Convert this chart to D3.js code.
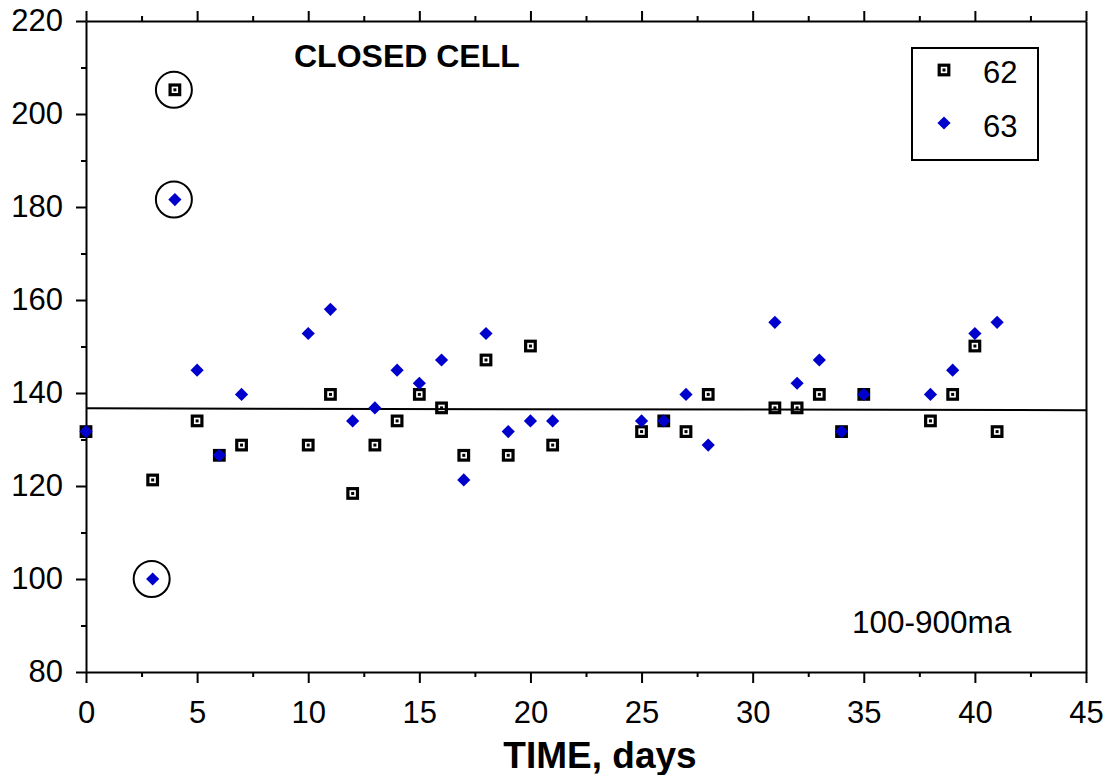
<!DOCTYPE html>
<html lang="en">
<head>
  <meta charset="utf-8">
  <title>Closed cell</title>
  <script src="https://cdn.jsdelivr.net/npm/d3@7"></script>
  <style>
    body { margin: 0; background: #fff; }
    svg text { font-family: "Liberation Sans", Arial, sans-serif; fill: #000; }
    .axis path, .axis line { stroke: #000; stroke-width: 2px; }
    .axis text { font-size: 31px; }
  </style>
</head>
<body>
<div id="chart"></div>
<script>
// days sampled (shared by both cells)
const days = [0, 3, 4, 5, 6, 7, 10, 11, 12, 13, 14, 15, 16, 17, 18, 19, 20, 21,
              25, 26, 27, 28, 31, 32, 33, 34, 35, 38, 39, 40, 41];
// cell 62
const cell62 = [131.7, 121.3, 205.2, 134, 126.6, 128.8, 128.8, 139.7, 118.4, 128.8, 134,
                139.7, 136.8, 126.6, 147.1, 126.6, 150.1, 128.8, 131.7, 134, 131.7, 139.7,
                136.8, 136.8, 139.7, 131.7, 139.7, 134, 139.7, 150.1, 131.7];
// cell 63
const cell63 = [131.7, 100, 181.6, 144.9, 126.6, 139.7, 152.8, 158, 134, 136.8, 144.9,
                142.1, 147.1, 121.3, 152.8, 131.7, 134, 134, 134, 134, 139.7, 128.8,
                155.2, 142.1, 147.1, 131.7, 139.7, 139.7, 144.9, 152.8, 155.2];
// circled outliers [series, day]
const outliers = [["62", 4], ["63", 4], ["63", 3]];
// fitted line end points
const fitX = [0, 45];
const fitY = [136.7, 136.3];
const xTicks = [0, 5, 10, 15, 20, 25, 30, 35, 40, 45];
const yTicks = [80, 100, 120, 140, 160, 180, 200, 220];

const W = 1104, H = 775;
const x = d3.scaleLinear().domain([0, 45]).range([86, 1086]);
const y = d3.scaleLinear().domain([80, 220]).range([672, 21]);

const svg = d3.select("#chart").append("svg").attr("width", W).attr("height", H);

const minorX = d3.range(2.5, 45, 5);
const minorY = d3.range(90, 220, 20);

// bottom axis
const gx = svg.append("g").attr("class", "axis").attr("transform", `translate(0,${y(80)})`)
  .call(d3.axisBottom(x).tickValues(xTicks).tickSize(11).tickSizeOuter(0).tickPadding(18));
gx.selectAll("text").attr("dy", "0.71em");
svg.append("g").attr("class", "axis").attr("transform", `translate(0,${y(80)})`)
  .call(d3.axisBottom(x).tickValues(minorX).tickSize(5).tickFormat("")).select(".domain").remove();

// top axis
svg.append("g").attr("class", "axis").attr("transform", `translate(0,${y(220)})`)
  .call(d3.axisTop(x).tickValues(xTicks).tickSize(10).tickSizeOuter(0).tickFormat(""));
svg.append("g").attr("class", "axis").attr("transform", `translate(0,${y(220)})`)
  .call(d3.axisTop(x).tickValues(minorX).tickSize(5).tickFormat("")).select(".domain").remove();

// left axis
svg.append("g").attr("class", "axis").attr("transform", `translate(${x(0)},0)`)
  .call(d3.axisLeft(y).tickValues(yTicks).tickSize(10).tickSizeOuter(0).tickPadding(13));
svg.append("g").attr("class", "axis").attr("transform", `translate(${x(0)},0)`)
  .call(d3.axisLeft(y).tickValues(minorY).tickSize(5).tickFormat("")).select(".domain").remove();

// right axis (plain)
svg.append("g").attr("class", "axis").attr("transform", `translate(${x(45)},0)`)
  .call(d3.axisRight(y).tickValues([]).tickSizeOuter(0));

// markers
function square(g) {
  g.append("rect").attr("x", -4.8).attr("y", -4.8).attr("width", 9.6).attr("height", 9.6)
    .attr("fill", "#fff").attr("stroke", "#000").attr("stroke-width", 3.2);
  g.append("rect").attr("x", -1.5).attr("y", -1.5).attr("width", 3).attr("height", 3).attr("fill", "#000");
}
const diamondPath = "M0,-6.6L6.6,0L0,6.6L-6.6,0Z";
const blue = "#0000cc";

const pts62 = days.map((d, i) => ({ d, v: cell62[i] }));
const pts63 = days.map((d, i) => ({ d, v: cell63[i] }));

svg.append("g").selectAll("g").data(pts62).join("g")
  .attr("transform", p => `translate(${x(p.d)},${y(p.v)})`)
  .each(function () { square(d3.select(this)); });

// fitted line
svg.append("line")
  .attr("x1", x(fitX[0])).attr("y1", y(fitY[0]))
  .attr("x2", x(fitX[1])).attr("y2", y(fitY[1]))
  .attr("stroke", "#000").attr("stroke-width", 2);

svg.append("g").selectAll("path").data(pts63).join("path")
  .attr("d", diamondPath).attr("fill", blue)
  .attr("transform", p => `translate(${x(p.d)},${y(p.v)})`);

// outlier circles
svg.append("g").selectAll("circle").data(outliers).join("circle")
  .attr("cx", o => x(o[1]) - 1)
  .attr("cy", o => y((o[0] === "62" ? cell62 : cell63)[days.indexOf(o[1])]))
  .attr("r", 18).attr("fill", "none").attr("stroke", "#000").attr("stroke-width", 2);

// text
svg.append("text").attr("x", 294).attr("y", 67)
  .attr("font-size", 32).attr("font-weight", "bold").text("CLOSED CELL");
svg.append("text").attr("x", 852).attr("y", 633)
  .attr("font-size", 31.5).text("100-900ma");
svg.append("text").attr("x", 600).attr("y", 768).attr("text-anchor", "middle")
  .attr("font-size", 37).attr("font-weight", "bold").text("TIME, days");

// legend
const lg = svg.append("g");
lg.append("rect").attr("x", 912).attr("y", 48).attr("width", 126).attr("height", 112)
  .attr("fill", "#fff").attr("stroke", "#000").attr("stroke-width", 2);
square(lg.append("g").attr("transform", "translate(944,70)"));
lg.append("path").attr("d", diamondPath).attr("fill", blue).attr("transform", "translate(944,123)");
lg.append("text").attr("x", 983).attr("y", 83).attr("font-size", 31).text("62");
lg.append("text").attr("x", 983).attr("y", 137).attr("font-size", 31).text("63");
</script>
</body>
</html>
